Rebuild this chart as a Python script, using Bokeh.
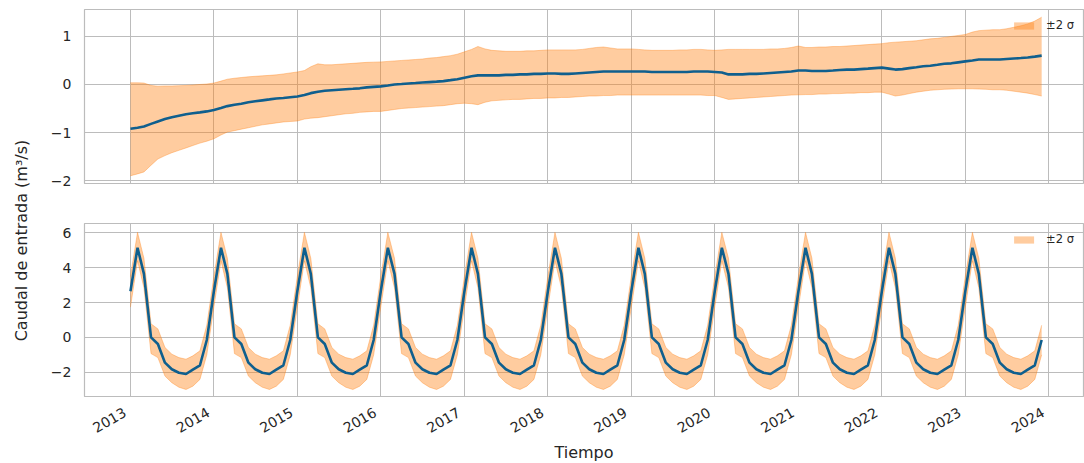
import math
import pandas as pd
from bokeh.plotting import figure
from bokeh.layouts import row, column
from bokeh.models import FixedTicker, Range1d, CustomJSTickFormatter
from bokeh.core.properties import value
from bokeh.embed import file_html
from bokeh.resources import INLINE

# ---------------- data ----------------
dates = pd.date_range("2013-01-01", periods=132, freq="MS")

trend = [
    -0.92, -0.90, -0.875, -0.82, -0.77, -0.72, -0.68, -0.65, -0.62, -0.60, -0.58, -0.56,
    -0.53, -0.49, -0.45, -0.42, -0.40, -0.37, -0.35, -0.33, -0.31, -0.29, -0.28, -0.265,
    -0.25, -0.22, -0.18, -0.15, -0.13, -0.12, -0.11, -0.10, -0.09, -0.08, -0.06, -0.05,
    -0.04, -0.02, 0.00, 0.01, 0.02, 0.03, 0.04, 0.05, 0.06, 0.07, 0.09, 0.11,
    0.14, 0.17, 0.19, 0.19, 0.19, 0.19, 0.20, 0.20, 0.21, 0.21, 0.22, 0.22,
    0.23, 0.23, 0.22, 0.22, 0.23, 0.24, 0.25, 0.26, 0.27, 0.27, 0.27, 0.27,
    0.27, 0.27, 0.27, 0.26, 0.26, 0.26, 0.26, 0.26, 0.26, 0.27, 0.27, 0.27,
    0.26, 0.25, 0.21, 0.21, 0.21, 0.22, 0.22, 0.23, 0.24, 0.25, 0.26, 0.27,
    0.29, 0.29, 0.28, 0.28, 0.28, 0.29, 0.30, 0.31, 0.31, 0.32, 0.33, 0.34,
    0.35, 0.33, 0.31, 0.32, 0.34, 0.36, 0.38, 0.39, 0.41, 0.43, 0.44, 0.46,
    0.48, 0.50, 0.52, 0.52, 0.52, 0.52, 0.53, 0.54, 0.55, 0.56, 0.58, 0.60,
]
trend_upper = [
    0.035, 0.035, 0.03, -0.02, -0.035, -0.03, -0.03, -0.025, -0.02, -0.01, 0.00, 0.01,
    0.03, 0.07, 0.11, 0.13, 0.145, 0.16, 0.17, 0.18, 0.19, 0.20, 0.22, 0.24,
    0.26, 0.29, 0.37, 0.43, 0.41, 0.41, 0.42, 0.43, 0.44, 0.45, 0.46, 0.465,
    0.47, 0.48, 0.49, 0.50, 0.51, 0.52, 0.53, 0.55, 0.56, 0.58, 0.60, 0.63,
    0.68, 0.73, 0.79, 0.74, 0.71, 0.70, 0.69, 0.69, 0.69, 0.70, 0.70, 0.71,
    0.72, 0.72, 0.72, 0.72, 0.72, 0.73, 0.75, 0.77, 0.78, 0.76, 0.74, 0.74,
    0.74, 0.73, 0.72, 0.71, 0.71, 0.71, 0.71, 0.72, 0.72, 0.73, 0.73, 0.72,
    0.71, 0.72, 0.73, 0.73, 0.73, 0.73, 0.73, 0.73, 0.74, 0.74, 0.75, 0.77,
    0.80, 0.77, 0.77, 0.78, 0.78, 0.79, 0.79, 0.80, 0.81, 0.82, 0.83, 0.84,
    0.85, 0.87, 0.88, 0.89, 0.90, 0.91, 0.93, 0.95, 0.96, 0.98, 1.00, 1.02,
    1.04, 1.09, 1.12, 1.13, 1.14, 1.14, 1.16, 1.19, 1.22, 1.26, 1.32, 1.40,
]
trend_lower = [
    -1.90, -1.86, -1.82, -1.68, -1.55, -1.48, -1.42, -1.37, -1.32, -1.27, -1.22, -1.18,
    -1.13, -1.05, -0.99, -0.96, -0.93, -0.90, -0.87, -0.84, -0.82, -0.80, -0.78, -0.77,
    -0.76, -0.72, -0.70, -0.69, -0.67, -0.65, -0.63, -0.61, -0.60, -0.58, -0.57, -0.56,
    -0.56, -0.54, -0.52, -0.50, -0.49, -0.48, -0.47, -0.46, -0.45, -0.44, -0.42, -0.40,
    -0.39, -0.40, -0.42, -0.37, -0.34, -0.33, -0.32, -0.31, -0.31, -0.30, -0.29, -0.29,
    -0.28, -0.28, -0.27, -0.27, -0.26, -0.25, -0.24, -0.24, -0.23, -0.23, -0.22, -0.22,
    -0.22, -0.22, -0.22, -0.22, -0.22, -0.22, -0.22, -0.22, -0.22, -0.22, -0.22, -0.23,
    -0.23, -0.27, -0.31, -0.30, -0.29, -0.28, -0.27, -0.26, -0.25, -0.24, -0.23, -0.22,
    -0.215, -0.21, -0.21, -0.20, -0.20, -0.19, -0.19, -0.18, -0.18, -0.17, -0.17, -0.16,
    -0.16, -0.20, -0.24, -0.22, -0.19, -0.16, -0.14, -0.12, -0.11, -0.10, -0.095, -0.09,
    -0.09, -0.09, -0.095, -0.10, -0.11, -0.11, -0.12, -0.14, -0.16, -0.18, -0.21, -0.24,
]

# seasonal component: the same 12 monthly values repeat every year (Jan..Dec)
season_month = [2.65, 5.15, 3.65, 0.0, -0.38, -1.45, -1.83, -2.03, -2.1, -1.85, -1.6, -0.15]
season_month_upper = [3.5, 6.03, 4.54, 0.78, 0.49, -0.58, -0.96, -1.16, -1.25, -1.06, -0.77, 0.7]
season_month_lower = [1.74, 4.4, 2.85, -0.93, -1.16, -2.22, -2.6, -2.86, -2.99, -2.8, -2.41, -1.0]
n_years = 11
seasonal = season_month * n_years
seasonal_upper = season_month_upper * n_years
seasonal_lower = season_month_lower * n_years

year_ticks = [str(y) for y in range(2013, 2025)]
top_yticks = [-2, -1, 0, 1]
bottom_yticks = [-2, 0, 2, 4, 6]

# ---------------- styling ----------------
FONT = "DejaVu Sans"
LINE = "#0f5f8e"
BAND = "#ff7f0e"
GRID = "#bcbcbc"
TXT = "#262626"

tick_ms = [pd.Timestamp(y + "-01-01").value / 1e6 for y in year_ticks]
x_start = pd.Timestamp("2012-06-14")
x_end = pd.Timestamp("2024-06-01")
minus_fmt = CustomJSTickFormatter(code="return tick.toString().replace('-', '\u2212');")

W = 1046
H_TOP, H_BOT, H_AX = 203, 194, 64


def style(p, yticks):
    p.outline_line_color = GRID
    p.outline_line_width = 1.2
    p.background_fill_color = "white"
    p.border_fill_color = "white"
    p.xgrid.ticker = FixedTicker(ticks=tick_ms)
    p.ygrid.ticker = FixedTicker(ticks=yticks)
    for g in (p.xgrid, p.ygrid):
        g.grid_line_color = GRID
        g.grid_line_width = 1
    p.yaxis.ticker = FixedTicker(ticks=yticks)
    p.yaxis.formatter = minus_fmt
    p.yaxis.axis_line_color = None
    p.yaxis.major_tick_line_color = None
    p.yaxis.minor_tick_line_color = None
    p.yaxis.major_label_standoff = 7
    p.yaxis.major_label_text_font = FONT
    p.yaxis.major_label_text_font_size = "14px"
    p.yaxis.major_label_text_color = TXT
    p.xaxis.visible = False


def add_series(p, y, lo, hi):
    p.varea(x=dates, y1=lo, y2=hi, fill_color=BAND, fill_alpha=0.4, legend_label="±2 σ")
    p.line(x=dates, y=hi, line_color=BAND, line_alpha=0.35, line_width=1)
    p.line(x=dates, y=lo, line_color=BAND, line_alpha=0.35, line_width=1)
    p.line(x=dates, y=y, line_color=LINE, line_width=2.6)
    lg = p.legend[0]
    lg.location = "top_right"
    lg.background_fill_alpha = 0
    lg.border_line_alpha = 0
    lg.margin = 5
    lg.padding = 4
    lg.glyph_width = 25
    lg.glyph_height = 9
    lg.label_standoff = 10
    lg.label_text_font = FONT
    lg.label_text_font_size = "11.5px"
    lg.label_text_color = TXT
    lg.label_height = 12


top = figure(width=W, height=H_TOP, x_axis_type="datetime", output_backend="svg",
             toolbar_location=None, x_range=Range1d(x_start, x_end),
             y_range=Range1d(-2.06, 1.56),
             min_border_left=46, min_border_right=1, min_border_top=9, min_border_bottom=20)
add_series(top, trend, trend_lower, trend_upper)
style(top, top_yticks)

bottom = figure(width=W, height=H_BOT, x_axis_type="datetime", output_backend="svg",
                toolbar_location=None, x_range=top.x_range,
                y_range=Range1d(-3.45, 6.54),
                min_border_left=46, min_border_right=1, min_border_top=20, min_border_bottom=0)
add_series(bottom, seasonal, seasonal_lower, seasonal_upper)
style(bottom, bottom_yticks)

# x tick labels (rotated, right end at the tick) and axis title, on a strip sharing the x range
axf = figure(width=W, height=H_AX, x_axis_type=None, y_axis_type=None, output_backend="svg",
             toolbar_location=None, x_range=top.x_range, y_range=Range1d(0, H_AX),
             min_border_left=46, min_border_right=1, min_border_top=0, min_border_bottom=0,
             outline_line_color=None)
axf.grid.visible = False
axf.text(x=tick_ms, y=[H_AX - 18] * len(tick_ms), text=year_ticks, angle=math.pi / 6,
         text_align="right", text_baseline="bottom", x_offset=-3,
         text_font=value(FONT), text_font_size="14px", text_color=TXT)
x_mid = x_start + (x_end - x_start) / 2
axf.text(x=[x_mid], y=[H_AX - 55], text=["Tiempo"], text_align="center",
         text_baseline="middle", text_font=value(FONT), text_font_size="16px",
         text_color=TXT)

# shared y label in its own narrow column
H = H_TOP + H_BOT + H_AX
lab = figure(width=38, height=H, x_axis_type=None, y_axis_type=None, output_backend="svg",
             toolbar_location=None, x_range=Range1d(0, 38), y_range=Range1d(0, H),
             min_border=0, outline_line_color=None)
lab.grid.visible = False
lab.text(x=[21], y=[H - 240], text=["Caudal de entrada (m³/s)"], angle=math.pi / 2,
         text_align="center", text_baseline="middle", text_font=value(FONT),
         text_font_size="16px", text_color=TXT)

layout = row(lab, column(top, bottom, axf, spacing=0), spacing=0)
open("out.html", "w").write(file_html(layout, INLINE))
